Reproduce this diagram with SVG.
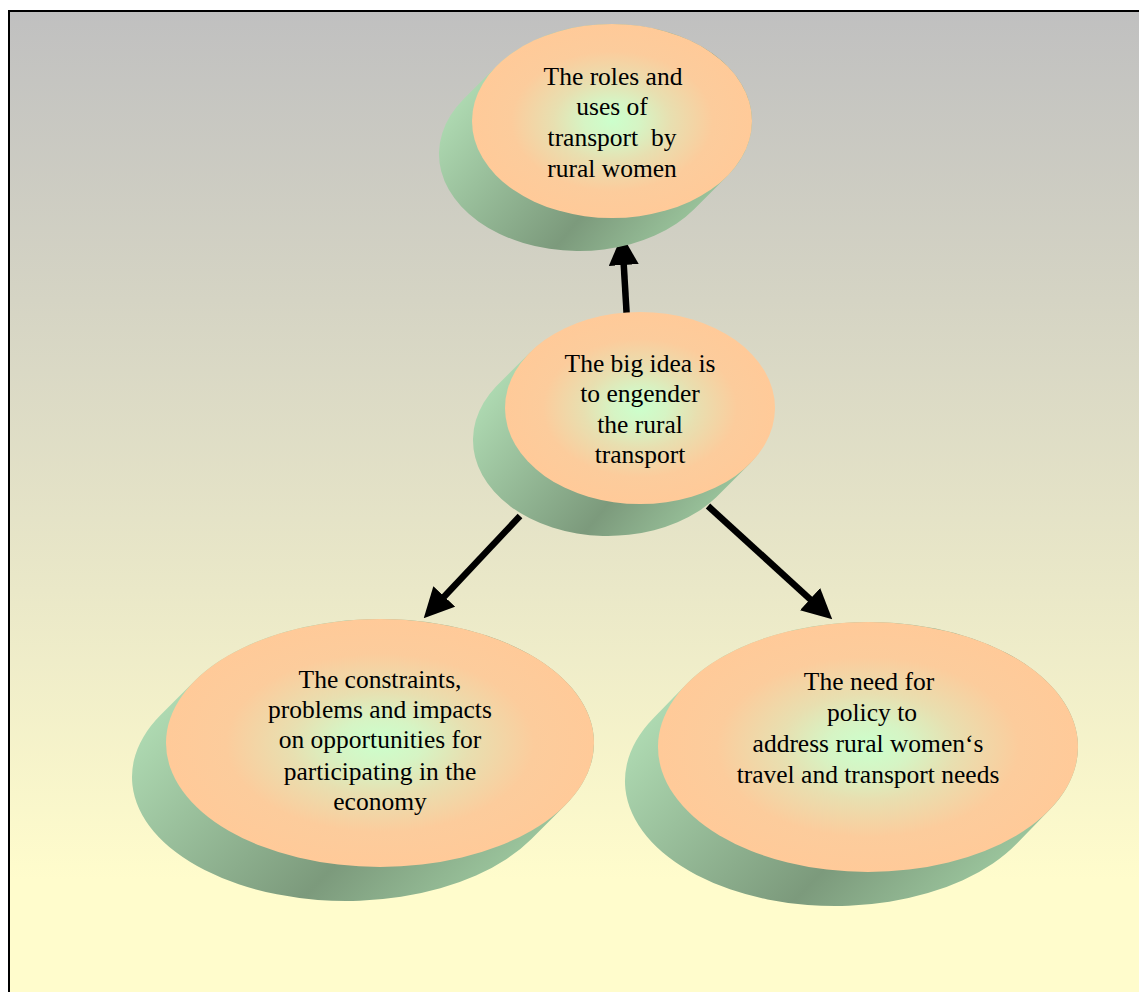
<svg xmlns="http://www.w3.org/2000/svg" width="1139" height="992" viewBox="0 0 1139 992">
  <defs>
    <linearGradient id="bg" gradientUnits="userSpaceOnUse" x1="0" y1="10" x2="0" y2="880">
      <stop offset="0" stop-color="#c0c0c0"/>
      <stop offset="1" stop-color="#fffccc"/>
    </linearGradient>
    <radialGradient id="face" cx="0.5" cy="0.5" r="0.5">
      <stop offset="0" stop-color="#ccffcc"/>
      <stop offset="0.2" stop-color="#d6f4c4"/>
      <stop offset="0.42" stop-color="#e8dfb0"/>
      <stop offset="0.72" stop-color="#fccc9c"/>
      <stop offset="1" stop-color="#ffca99"/>
    </radialGradient>
    <linearGradient id="side" x1="0" y1="0.2" x2="1" y2="0.8">
      <stop offset="0" stop-color="#b8e6bc"/>
      <stop offset="0.62" stop-color="#7c9a7c"/>
      <stop offset="1" stop-color="#a6d4a8"/>
    </linearGradient>
    <marker id="ah" viewBox="0 0 30 30" markerWidth="30" markerHeight="30" markerUnits="userSpaceOnUse" refX="1" refY="15" orient="auto">
      <path d="M0,0 L30,15 L0,30 Z" fill="#000"/>
    </marker>
    <style>
      .side { fill: url(#side); }
      .face { fill: url(#face); }
      .lbl { font-family: "Liberation Serif", "Times New Roman", serif; font-size: 25.5px; fill: #000; text-anchor: middle; white-space: pre; }
      .conn { stroke: #000; stroke-width: 6.5; fill: none; marker-end: url(#ah); }
    </style>
  </defs>

  <rect x="9" y="11" width="1140" height="990" fill="url(#bg)" stroke="#000" stroke-width="2"/>

  <g id="connectors">
    <line class="conn" x1="628" y1="337" x2="623.7" y2="264"/>
    <line class="conn" x1="520" y1="516" x2="443.6" y2="597.2"/>
    <line class="conn" x1="708" y1="506" x2="810.8" y2="599.8"/>
  </g>

  <g id="node-roles">
    <path class="side" d="M 496.9 65.75 L 463.9 98.75 A 140 97 0 0 0 694.1 209.25 L 727.1 176.25 A 140 97 0 0 0 496.9 65.75 Z"/>
    <ellipse class="face" cx="612" cy="121" rx="140" ry="97"/>
    <text class="lbl" xml:space="preserve"><tspan x="613" y="85">The roles and</tspan><tspan x="612" y="115">uses of</tspan><tspan x="612" y="146">transport  by</tspan><tspan x="612" y="177">rural women</tspan></text>
  </g>

  <g id="node-bigidea">
    <path class="side" d="M 530 352.4 L 496 386.4 A 135 96 0 0 0 716 497.6 L 750 463.6 A 135 96 0 0 0 530 352.4 Z"/>
    <ellipse class="face" cx="640" cy="408" rx="135" ry="96"/>
    <text class="lbl"><tspan x="640" y="372">The big idea is</tspan><tspan x="640" y="402">to engender</tspan><tspan x="640" y="433">the rural</tspan><tspan x="640" y="463">transport</tspan></text>
  </g>

  <g id="node-constraints">
    <path class="side" d="M 194.8 680.8 L 160.8 714.8 A 214 124 0 0 0 531.2 839.2 L 565.2 805.2 A 214 124 0 0 0 194.8 680.8 Z"/>
    <ellipse class="face" cx="380" cy="743" rx="214" ry="124"/>
    <text class="lbl"><tspan x="380" y="688">The constraints,</tspan><tspan x="380" y="718">problems and impacts</tspan><tspan x="380" y="748">on opportunities for</tspan><tspan x="380" y="780">participating in the</tspan><tspan x="380" y="810">economy</tspan></text>
  </g>

  <g id="node-policy">
    <path class="side" d="M 686.1 684.5 L 653.1 718.5 A 210 125 0 0 0 1016.9 843.5 L 1049.9 809.5 A 210 125 0 0 0 686.1 684.5 Z"/>
    <ellipse class="face" cx="868" cy="747" rx="210" ry="125"/>
    <text class="lbl"><tspan x="869" y="690">The need for</tspan><tspan x="872" y="721">policy to</tspan><tspan x="868" y="752">address rural women‘s</tspan><tspan x="868" y="783">travel and transport needs</tspan></text>
  </g>
</svg>
